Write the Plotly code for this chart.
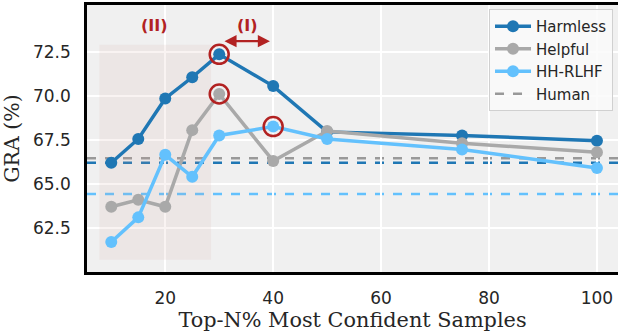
import plotly.graph_objects as go

# ---- data ----
top_n = [10, 15, 20, 25, 30, 40, 50, 75, 100]
harmless = [66.2, 67.55, 69.85, 71.05, 72.35, 70.55, 67.95, 67.75, 67.45]
helpful = [63.7, 64.1, 63.7, 68.05, 70.1, 66.3, 68.0, 67.3, 66.8]
hh_rlhf = [61.7, 63.1, 66.65, 65.4, 67.75, 68.25, 67.55, 66.95, 65.9]
human_harmless = 66.2
human_helpful = 66.45
human_hh = 64.42
highlight = [("Harmless", 30), ("Helpful", 30), ("HH-RLHF", 40)]
region_ii = [7.8, 28.5, 60.7, 72.9]   # x0, x1, y0, y1 of shaded region (II)
arrow_i = [30.7, 39.4, 73.1]           # x0, x1, y of arrow (I)
x_ticks = [20, 40, 60, 80, 100]
y_ticks = [62.5, 65.0, 67.5, 70.0, 72.5]

C_HARM = "#1f77b4"
C_HELP = "#a9a9a9"
C_HH = "#63c1fd"
RED = "#b22222"

series = {"Harmless": (harmless, C_HARM), "Helpful": (helpful, C_HELP), "HH-RLHF": (hh_rlhf, C_HH)}

fig = go.Figure()
for name, (vals, col) in series.items():
    fig.add_trace(go.Scatter(
        x=top_n, y=vals, name=name, mode="lines+markers",
        line=dict(color=col, width=3.5),
        marker=dict(color=col, size=12),
    ))
fig.add_trace(go.Scatter(x=[None], y=[None], name="Human", mode="lines",
                         line=dict(color="#999999", width=2.5, dash="dash")))

hx = [x for _, x in highlight]
hy = [series[n][0][top_n.index(x)] for n, x in highlight]
fig.add_trace(go.Scatter(x=hx, y=hy, mode="markers", showlegend=False,
                         marker=dict(symbol="circle-open", size=19, color=RED,
                                     line=dict(width=2.5, color=RED))))

shapes = [
    dict(type="rect", xref="x", yref="y", x0=region_ii[0], x1=region_ii[1],
         y0=region_ii[2], y1=region_ii[3], fillcolor="rgba(205,160,155,0.13)",
         line=dict(width=0), layer="between"),
]
for val, col in [(human_helpful, "#999999"), (human_harmless, C_HARM), (human_hh, C_HH)]:
    shapes.append(dict(type="line", xref="paper", yref="y", x0=0, x1=1, y0=val, y1=val,
                       line=dict(color=col, width=2.5, dash="dash"), layer="between"))

annotations = [
    dict(x=18.1, y=73.96, xref="x", yref="y", text="<b>(II)</b>", showarrow=False,
         font=dict(family="DejaVu Sans", size=16, color=RED)),
    dict(x=35.15, y=73.96, xref="x", yref="y", text="<b>(I)</b>", showarrow=False,
         font=dict(family="DejaVu Sans", size=16, color=RED)),
    dict(x=arrow_i[1], y=arrow_i[2], ax=arrow_i[0], ay=arrow_i[2], xref="x", yref="y",
         axref="x", ayref="y", text="", showarrow=True, arrowhead=2, arrowside="end+start",
         arrowsize=1.1, arrowwidth=2.2, arrowcolor=RED),
]

fig.update_layout(
    width=618, height=333,
    margin=dict(l=87, r=0, t=5, b=61),
    paper_bgcolor="white", plot_bgcolor="#f0f0f0",
    font=dict(family="DejaVu Sans", size=17, color="#262626"),
    shapes=shapes, annotations=annotations,
    legend=dict(x=0.9906, y=0.985, xanchor="right", yanchor="top",
                bgcolor="rgba(250,250,250,0.85)", bordercolor="#d0d0d0", borderwidth=1,
                itemwidth=36,
                font=dict(family="DejaVu Sans", size=15, color="#262626")),
    showlegend=True,
)
fig.update_xaxes(range=[5.5, 103.9], tickvals=x_ticks, showgrid=True, gridcolor="white",
                 gridwidth=2, zeroline=False, showline=True, mirror=True, linecolor="black",
                 linewidth=2.5, ticks="outside", ticklen=9, tickcolor="rgba(0,0,0,0)",
                 title=dict(text="Top-N% Most Confident Samples", standoff=5,
                            font=dict(family="DejaVu Serif", size=20.8, color="#262626")))
fig.update_yaxes(range=[60, 75.15], tickvals=y_ticks, tickformat=".1f", showgrid=True,
                 gridcolor="white", gridwidth=2, zeroline=False, showline=True, mirror=False,
                 linecolor="black", linewidth=2.5, ticks="outside", ticklen=10,
                 tickcolor="rgba(0,0,0,0)",
                 title=dict(text="GRA (%)", standoff=8,
                            font=dict(family="DejaVu Serif", size=20.5, color="#262626")))

fig.write_html("out.html")
